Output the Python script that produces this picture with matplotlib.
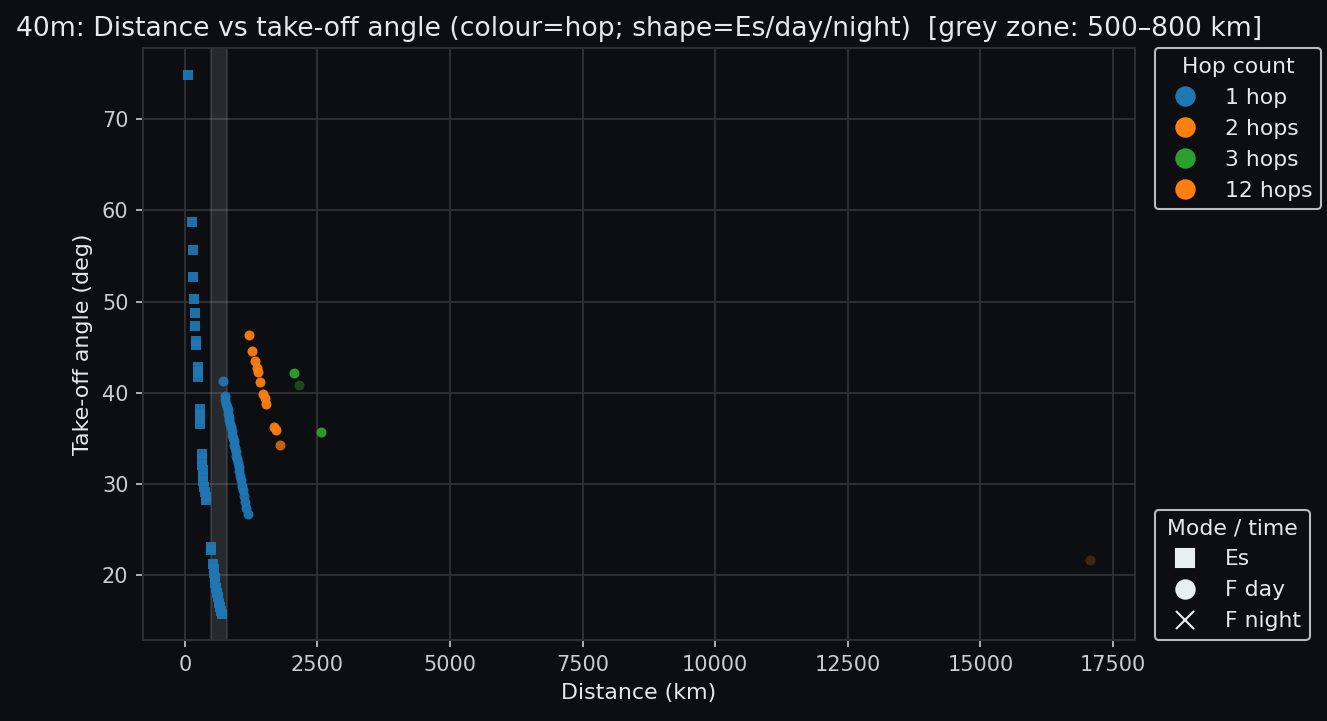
import matplotlib
matplotlib.use("Agg")
import matplotlib.pyplot as plt
from matplotlib.lines import Line2D

# ---------------- data ----------------
es_dist = [57, 132, 150, 160, 180, 189, 198, 205, 210, 240, 245, 250,
           280, 283, 286, 289,
           320, 325, 330, 335, 340, 350, 365, 380, 390, 396,
           488, 495,
           528, 540, 550, 560, 575, 590, 605, 620, 640, 660, 680, 698]
es_ang = [74.8, 58.7, 55.7, 52.7, 50.3, 48.8, 47.3, 45.7, 45.2, 42.8, 42.3, 41.7,
          38.2, 37.6, 37.1, 36.6,
          33.3, 32.7, 32.1, 31.5, 30.9, 30.3, 29.7, 29.1, 28.6, 28.2,
          23.1, 22.8,
          21.2, 20.7, 20.2, 19.7, 19.2, 18.6, 18.1, 17.6, 17.0, 16.5, 16.1, 15.8]

f1_dist = [711, 754, 765, 778, 790, 803, 815, 826, 840, 852, 866, 880, 893, 905,
           918, 930, 945, 958, 972, 985, 998, 1012, 1028, 1045, 1062, 1080,
           1098, 1120, 1140, 1160, 1182]
f1_ang = [41.3, 39.6, 39.2, 38.8, 38.4, 38.1, 37.7, 37.4, 37.0, 36.6, 36.2, 35.8,
          35.4, 35.1, 34.7, 34.3, 33.9, 33.5, 33.1, 32.7, 32.3, 31.9, 31.4, 30.9,
          30.4, 29.8, 29.3, 28.7, 28.0, 27.4, 26.7]

f2_dist = [1200, 1269, 1320, 1358, 1370, 1420, 1480, 1508, 1533, 1684, 1710, 1791]
f2_ang = [46.3, 44.6, 43.5, 42.7, 42.3, 41.2, 39.9, 39.4, 38.8, 36.3, 35.9, 34.3]
f2_alpha = [0.95, 0.95, 0.95, 0.95, 0.95, 0.95, 0.95, 0.95, 0.95, 0.95, 0.95, 0.75]

f3_dist = [2063, 2156, 2564]
f3_ang = [42.2, 40.9, 35.7]
f3_alpha = [0.95, 0.4, 0.95]

f12_dist = [17072]
f12_ang = [21.7]
f12_alpha = [0.22]

hop_labels = ["1 hop", "2 hops", "3 hops", "12 hops"]
hop_colors = ["#1f77b4", "#ff7f0e", "#2ca02c", "#ff7f0e"]
mode_labels = ["Es", "F day", "F night"]
mode_markers = ["s", "o", "x"]

zone = (500, 800)
xticks = [0, 2500, 5000, 7500, 10000, 12500, 15000, 17500]
yticks = [20, 30, 40, 50, 60, 70]

# ---------------- style ----------------
BG = "#0c0e12"
GRID = "#2b2e33"
TXT = "#e6e9ec"
TICK = "#c9cdd2"
LIGHT = "#e8eef2"

fig = plt.figure(figsize=(8.853, 4.807), dpi=150, facecolor=BG)
ax = fig.add_axes([0.1077, 0.1123, 0.7470, 0.8211], facecolor=BG)

ax.axvspan(zone[0], zone[1], color="#c8c8c8", alpha=0.15, zorder=1)

S = 23
ax.scatter(es_dist, es_ang, s=S, marker="s", color=hop_colors[0], alpha=0.95,
           linewidths=0, zorder=3)
ax.scatter(f1_dist, f1_ang, s=S, marker="o", color=hop_colors[0], alpha=0.95,
           linewidths=0, zorder=3)
for d, a, al in zip(f2_dist, f2_ang, f2_alpha):
    ax.scatter([d], [a], s=S, marker="o", color=hop_colors[1], alpha=al,
               linewidths=0, zorder=3)
for d, a, al in zip(f3_dist, f3_ang, f3_alpha):
    ax.scatter([d], [a], s=S, marker="o", color=hop_colors[2], alpha=al,
               linewidths=0, zorder=3)
for d, a, al in zip(f12_dist, f12_ang, f12_alpha):
    ax.scatter([d], [a], s=S, marker="o", color=hop_colors[3], alpha=al,
               linewidths=0, zorder=3)

ax.set_xlim(-790, 17915)
ax.set_ylim(12.9, 77.8)
ax.set_xticks(xticks)
ax.set_yticks(yticks)
ax.grid(True, color=GRID, linewidth=1.0, zorder=0)
ax.set_axisbelow(True)
for sp in ax.spines.values():
    sp.set_color(GRID)
    sp.set_linewidth(1.0)
ax.tick_params(colors=TICK, labelsize=10)

ax.set_xlabel("Distance (km)", color=TXT, fontsize=10.6)
ax.set_ylabel("Take-off angle (deg)", color=TXT, fontsize=10.6)
ax.set_title("40m: Distance vs take-off angle (colour=hop; shape=Es/day/night)  "
             "[grey zone: 500\u2013800 km]", color=TXT, fontsize=12.75)

hop_handles = [Line2D([], [], linestyle="none", marker="o", markersize=8.8,
                      color=c, label=l) for c, l in zip(hop_colors, hop_labels)]
mode_handles = [Line2D([], [], linestyle="none", marker=m, markersize=8.8,
                       color=LIGHT, markeredgecolor=LIGHT, label=l)
                for m, l in zip(mode_markers, mode_labels)]

leg1 = ax.legend(handles=hop_handles, title="Hop count", loc="upper left",
                 bbox_to_anchor=(1.02, 1.0), borderaxespad=0, frameon=True,
                 facecolor=BG, edgecolor="#b8bcc0", labelcolor=TXT,
                 fontsize=10.5, title_fontsize=10.5)
leg1.get_title().set_color(TXT)
leg1.get_frame().set_alpha(1.0)
ax.add_artist(leg1)
leg2 = ax.legend(handles=mode_handles, title="Mode / time", loc="lower left",
                 bbox_to_anchor=(1.02, 0.0), borderaxespad=0, frameon=True,
                 facecolor=BG, edgecolor="#b8bcc0", labelcolor=TXT,
                 fontsize=10.5, title_fontsize=10.5)
leg2.get_title().set_color(TXT)
leg2.get_frame().set_alpha(1.0)

fig.savefig("out.png", dpi=150, facecolor=BG)
